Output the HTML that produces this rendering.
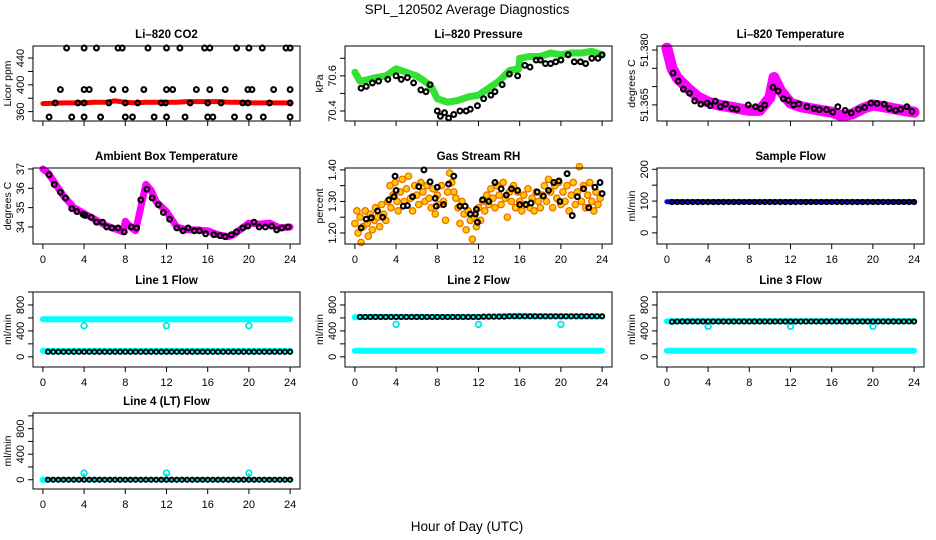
<!DOCTYPE html>
<html><head><meta charset="utf-8">
<style>
body{margin:0;background:#fff;}
svg{display:block;font-family:"Liberation Sans",sans-serif;}
</style></head>
<body>
<svg id="chart" width="936" height="540" viewBox="0 0 936 540" xmlns="http://www.w3.org/2000/svg">
<rect x="0" y="0" width="936" height="540" fill="#fff"/>
<text x="467" y="14" text-anchor="middle" font-size="13.5">SPL_120502  Average Diagnostics</text>
<text x="467" y="531" text-anchor="middle" font-size="13.5">Hour of Day (UTC)</text>
</svg>
<script>
// ---------- data ----------
const xTicks = [0,4,8,12,16,20,24];
// CO2
const co2BandHours = [0,1,2,3,4,5,6,7,8,9,10,11,12,13,14,15,16,17,18,19,20,21,22,23,24];
const co2BandVals = [372,372.5,373,373,373,374,374,376,374,373,374,374,374,374,375,375,375,375,374,374,373,373,373,373,373];
const co2PtHours = [2.3,4,5.2,7.3,7.7,10.2,12,13.3,15.7,16.2,18.8,20,21.3,23.6,24, 1.7,4,4.5,6.8,8,9.8,12,12.6,14.9,16.2,17.7,19.9,20.3,22.4,24, 1.2,3.4,4,6.4,8,9.2,11.5,11.9,14.3,16,17.3,19.4,19.9,22,24, 0.6,2.8,4,5.6,8,8.7,10.8,12,13.8,16,16.5,18.6,20,21.4,24];
const co2PtVals = [455,455,455,455,455,455,455,455,455,455,455,455,455,455,455, 393,393,393,393,393,393,393,393,393,393,393,393,393,393,393, 373,373,373,373,373,373,373,373,373,373,373,373,373,373,373, 352,352,352,352,352,352,352,352,352,352,352,352,352,352,352];
// Pressure
const presBandHours = [0,0.5,1,2,3,4,5,6,7,7.5,8,9,10,11,12,13,14,15,15.9,16,17,18,19,20,21,22,23,24];
const presBandVals = [70.62,70.57,70.575,70.59,70.60,70.64,70.62,70.60,70.56,70.53,70.47,70.45,70.46,70.48,70.49,70.53,70.57,70.63,70.64,70.70,70.71,70.71,70.73,70.72,70.73,70.73,70.74,70.72];
const presPtHours = [0.6,1.1,1.7,2.3,3.2,4,4.5,5.1,5.7,6.4,6.9,7.3,8,8.3,8.7,9.1,9.6,10.2,10.8,11.2,11.9,12.5,13.2,13.6,14.3,15,15.8,16.5,17,17.6,18,18.5,19,19.5,20,20.7,21.3,21.9,22.4,23,23.6,24];
const presPtVals = [70.53,70.54,70.56,70.57,70.58,70.60,70.58,70.59,70.56,70.52,70.51,70.55,70.40,70.37,70.39,70.36,70.38,70.40,70.40,70.41,70.43,70.47,70.49,70.51,70.55,70.61,70.60,70.66,70.65,70.69,70.69,70.67,70.67,70.68,70.69,70.72,70.68,70.68,70.67,70.70,70.70,70.72];
// Li-820 temperature
const tempBandHours = [0,0.5,1,2,3,4,5,6,7,8,9,10,10.4,11,12,13,14,15,16,17,18,19,20,21,22,23,24];
const tempBandVals = [51.3805,51.375,51.3724,51.3696,51.3672,51.3658,51.365,51.3645,51.364,51.3635,51.3635,51.367,51.3725,51.369,51.3655,51.3645,51.364,51.3635,51.363,51.362,51.3625,51.364,51.365,51.3645,51.364,51.3635,51.363];
const tempPtHours = [0.6,1.1,1.6,2.2,2.7,3.3,3.9,4.2,4.7,5.2,5.7,6.3,6.8,7.9,8.6,9.1,9.5,10.3,10.8,11.3,11.8,12.3,12.8,13.6,14.3,14.8,15.5,16.1,16.6,17.3,17.9,18.6,19.2,19.8,20.4,21.1,21.6,22.2,22.7,23.3,23.8];
const tempPtVals = [51.3737,51.3715,51.3693,51.3682,51.3661,51.3652,51.3655,51.3648,51.3660,51.3645,51.3652,51.3640,51.3638,51.3650,51.3645,51.3640,51.3650,51.3698,51.3688,51.3667,51.3663,51.3650,51.3653,51.3645,51.3640,51.3637,51.3637,51.3630,51.3645,51.3635,51.3628,51.3638,51.3643,51.3655,51.3654,51.3652,51.3640,51.3635,51.3638,51.3645,51.3632];
// Ambient box temperature
const ambBandHours = [0,0.5,1,2,3,4,5,6,7,7.8,8,8.5,9,9.5,10,10.5,11,12,13,14,15,16,17,18,18.5,19,20,21,22,23,24];
const ambBandVals = [37.0,36.8,36.4,35.6,35.0,34.7,34.4,34.1,33.9,33.75,34.3,34.0,33.8,35.0,36.2,35.9,35.3,34.8,34.0,33.85,33.85,33.8,33.6,33.5,33.6,33.8,34.2,34.15,34.2,33.95,34.0];
const ambPtHours = [0.6,1.1,1.7,2.2,2.8,3.3,3.9,4.1,4.7,5.2,5.8,6.2,6.7,7.3,7.9,8.6,9.1,9.5,10.1,10.6,11.2,11.7,12.3,13,13.6,14.1,14.7,15.2,15.8,16.6,17.2,17.7,18.3,18.8,19.4,19.9,20.5,21,21.6,22.2,22.7,23.2,23.8];
const ambPtVals = [36.7,36.2,35.8,35.5,34.95,34.8,34.65,34.6,34.5,34.25,34.25,34.0,33.95,33.95,33.75,34.0,33.95,35.4,35.95,35.5,35.15,34.75,34.4,33.95,33.8,33.95,33.8,33.8,33.65,33.6,33.55,33.5,33.6,33.75,33.95,34.05,34.25,34.0,34.0,34.05,33.85,33.95,34.0];
// Gas stream RH
const rhScatHours = [0.0,0.2,0.3,0.5,0.6,0.8,1.0,1.2,1.3,1.5,1.7,1.9,2.0,2.2,2.4,2.6,2.8,3.0,3.2,3.4,3.5,3.7,3.9,4.1,4.2,4.4,4.6,4.8,5.0,5.2,5.4,5.6,5.8,6.0,6.2,6.4,6.6,6.8,7.0,7.2,7.4,7.6,7.8,8.0,8.2,8.4,8.6,8.8,9.0,9.2,9.4,9.6,9.8,10.0,10.2,10.4,10.6,10.8,11.0,11.2,11.4,11.6,11.8,12.0,12.2,12.4,12.6,12.8,13.0,13.2,13.4,13.6,13.8,14.0,14.2,14.4,14.6,14.8,15.0,15.2,15.4,15.6,15.8,16.0,16.2,16.4,16.6,16.8,17.0,17.2,17.4,17.6,17.8,18.0,18.2,18.4,18.6,18.8,19.0,19.2,19.4,19.6,19.8,20.0,20.2,20.4,20.6,20.8,21.0,21.2,21.4,21.6,21.8,22.0,22.2,22.4,22.6,22.8,23.0,23.2,23.4,23.6,23.8];
const rhScatVals = [1.23,1.27,1.20,1.25,1.17,1.22,1.27,1.23,1.19,1.26,1.21,1.24,1.28,1.25,1.22,1.29,1.26,1.24,1.30,1.35,1.28,1.32,1.36,1.30,1.27,1.33,1.37,1.30,1.34,1.38,1.31,1.27,1.35,1.32,1.29,1.36,1.33,1.30,1.35,1.31,1.28,1.34,1.26,1.32,1.29,1.35,1.30,1.24,1.33,1.39,1.36,1.33,1.31,1.28,1.23,1.30,1.26,1.21,1.27,1.24,1.18,1.25,1.22,1.28,1.24,1.30,1.27,1.32,1.29,1.34,1.31,1.28,1.35,1.32,1.29,1.36,1.31,1.25,1.33,1.30,1.35,1.28,1.33,1.30,1.27,1.32,1.29,1.34,1.28,1.31,1.27,1.33,1.30,1.28,1.32,1.35,1.30,1.37,1.33,1.28,1.35,1.31,1.36,1.29,1.33,1.30,1.35,1.27,1.32,1.36,1.29,1.33,1.41,1.30,1.35,1.28,1.32,1.36,1.30,1.27,1.33,1.29,1.31];
const rhPtHours = [0.6,1.1,1.6,2.2,2.7,3.3,3.8,3.9,4,4.7,5.1,5.6,6.2,6.7,7.3,7.8,7.9,8,8.6,9.1,9.6,10.2,10.7,11.2,11.7,11.8,11.9,12.4,13,13.6,14.2,14.7,15.2,15.8,16,16.6,17.1,17.7,18.3,18.8,19.3,19.8,19.9,20.6,21.1,21.6,22.2,22.7,23.3,23.8,24];
const rhPtVals = [1.216,1.244,1.248,1.27,1.25,1.305,1.315,1.38,1.335,1.285,1.287,1.315,1.347,1.40,1.362,1.31,1.285,1.345,1.29,1.355,1.38,1.285,1.285,1.26,1.26,1.275,1.234,1.305,1.30,1.36,1.34,1.32,1.34,1.335,1.29,1.29,1.295,1.33,1.317,1.335,1.36,1.365,1.30,1.388,1.255,1.315,1.34,1.28,1.345,1.36,1.325];
// Flows
const flowBandHours = [0,1,2,3,4,5,6,7,8,9,10,11,12,13,14,15,16,17,18,19,20,21,22,23,24];
const sampleBandVals = [98,98,98,98,98,98,98,98,98,98,98,98,98,98,98,98,98,98,98,98,98,98,98,98,98];
const flowPtHours = [0.5,1,1.5,2,2.5,3,3.5,4,4.5,5,5.5,6,6.5,7,7.5,8,8.5,9,9.5,10,10.5,11,11.5,12,12.5,13,13.5,14,14.5,15,15.5,16,16.5,17,17.5,18,18.5,19,19.5,20,20.5,21,21.5,22,22.5,23,23.5,24];
const samplePtVals = [97,97,97,97,97,97,97,97,97,97,97,97,97,97,97,97,97,97,97,97,97,97,97,97,97,97,97,97,97,97,97,97,97,97,97,97,97,97,97,97,97,97,97,97,97,97,97,97];
const line1HighBand = [580,580,580,580,580,580,580,580,580,580,580,580,580,580,580,580,580,580,580,580,580,580,580,580,580];
const line1LowBand = [92,92,92,92,92,92,92,92,92,92,92,92,92,92,92,92,92,92,92,92,92,92,92,92,92];
const line1PtVals = [78,78,78,78,78,78,78,78,78,78,78,78,78,78,78,78,78,78,78,78,78,78,78,78,78,78,78,78,78,78,78,78,78,78,78,78,78,78,78,78,78,78,78,78,78,78,78,78];
const line2HighBand = [610,615,615,615,615,615,615,615,615,615,615,615,615,620,625,630,635,630,625,625,625,625,625,625,625];
const line2LowBand = [95,95,95,95,95,95,95,95,95,95,95,95,95,95,95,95,95,95,95,95,95,95,95,95,95];
const line2PtVals = [615,615,615,615,615,615,615,615,615,615,615,615,615,615,615,615,615,615,615,615,615,615,615,615,620,620,620,620,620,625,625,625,625,625,625,625,625,625,625,625,625,625,625,625,625,625,625,625];
const line3HighBand = [550,550,550,550,550,550,550,550,550,550,550,550,550,550,550,550,550,550,550,550,550,550,550,550,550];
const line3LowBand = [95,95,95,95,95,95,95,95,95,95,95,95,95,95,95,95,95,95,95,95,95,95,95,95,95];
const line3PtVals = [540,545,545,545,545,545,545,545,545,545,545,545,545,545,545,545,545,545,545,545,545,545,545,545,545,545,545,545,545,545,545,545,545,545,545,545,545,545,545,545,545,545,545,545,545,545,545,545];
const line4PtVals = [0,0,0,0,0,0,0,0,0,0,0,0,0,0,0,0,0,0,0,0,0,0,0,0,0,0,0,0,0,0,0,0,0,0,0,0,0,0,0,0,0,0,0,0,0,0,0,0];
const outlierHours = [4,12,20];
const line1Outliers = [480,480,480];
const line2Outliers = [500,500,500];
const line3Outliers = [470,470,470];
const line4Outliers = [105,105,105];
const line4StartHours = [0,0.2];
const line4StartVals = [0,0];

// ---------- drawing ----------
const NS = 'http://www.w3.org/2000/svg';
const svg = document.getElementById('chart');
function mk(parent, tag, attrs, name, inter) {
  const el = document.createElementNS(NS, tag);
  for (const k in attrs) el.setAttribute(k, attrs[k]);
  
  
  parent.appendChild(el);
  return el;
}
function makePanel(c) {
  const g = mk(svg, 'g', {}, c.id + '-panel', false);
  const sx = v => c.left + (v + 0.96) / 25.92 * c.w;
  const sy = v => c.top + c.h - (v - c.ymin) / (c.ymax - c.ymin) * c.h;
  const bottom = c.top + c.h;
  const t = mk(g, 'text', {x: c.left + c.w / 2, y: c.top - 8, 'text-anchor': 'middle', 'font-size': 11.5, 'font-weight': 'bold'}, c.id + '-title', false);
  t.textContent = c.title;
  mk(g, 'line', {x1: sx(0), x2: sx(24), y1: bottom, y2: bottom, stroke: '#000'}, c.id + '-x-axis', false);
  xTicks.forEach(v => {
    mk(g, 'line', {x1: sx(v), x2: sx(v), y1: bottom, y2: bottom + 5, stroke: '#000'}, c.id + '-x-tick', false);
    if (c.xlabels) {
      const tl = mk(g, 'text', {x: sx(v), y: bottom + 19, 'text-anchor': 'middle', 'font-size': 11}, c.id + '-x-tick-label', false);
      tl.textContent = v;
    }
  });
  c.ticks.forEach(v => {
    mk(g, 'line', {x1: c.left - 5, x2: c.left, y1: sy(v), y2: sy(v), stroke: '#000'}, c.id + '-y-tick', false);
  });
  c.labels.forEach((v, i) => {
    const yy = sy(v);
    const tl = mk(g, 'text', {x: c.left - 9, y: yy, 'text-anchor': 'middle', 'font-size': 11, transform: 'rotate(-90 ' + (c.left - 9) + ' ' + yy + ')'}, c.id + '-y-tick-label', false);
    tl.textContent = c.labelText[i];
  });
  const ay = c.top + c.h / 2;
  const yl = mk(g, 'text', {x: c.left - 22, y: ay, 'text-anchor': 'middle', 'font-size': 10.5, transform: 'rotate(-90 ' + (c.left - 22) + ' ' + ay + ')'}, c.id + '-y-axis-title', false);
  yl.textContent = c.ylab;
  const pg = mk(g, 'g', {}, c.id + '-plot-area', false);
  mk(g, 'rect', {x: c.left, y: c.top, width: c.w, height: c.h, fill: 'none', stroke: '#000'}, c.id + '-frame', false);
  return {sx, sy, g: pg};
}
function band(p, xs, ys, color, width, name) {
  const pts = xs.map((x, i) => p.sx(x).toFixed(1) + ',' + p.sy(ys[i]).toFixed(1)).join(' ');
  mk(p.g, 'polyline', {points: pts, fill: 'none', stroke: color, 'stroke-width': width, 'stroke-linejoin': 'round', 'stroke-linecap': 'round'}, name, false);
}
function points(p, xs, ys, stroke, fill, r, sw, name) {
  xs.forEach((x, i) => {
    mk(p.g, 'circle', {cx: p.sx(x), cy: p.sy(ys[i]), r: r, fill: fill, stroke: stroke, 'stroke-width': sw}, name, false);
  });
}
const C1 = 33, C2 = 345, C3 = 657, W = 267;
const R1 = 46, R2 = 168, R3 = 292, R4 = 413, H = 75;
const BR = 2.4, BW = 2.1;

// CO2
let p = makePanel({id: 'co2', left: C1, top: R1, w: W, h: H, ymin: 346, ymax: 458, ticks: [360,380,400,420,440], labels: [360,400,440], labelText: ['360','400','440'], title: 'Li–820 CO2', ylab: 'Licor ppm'});
band(p, co2BandHours, co2BandVals, '#ff0000', 5, 'co2-band');
points(p, co2PtHours, co2PtVals, '#000', 'none', BR, BW, 'co2-point');

// Pressure
p = makePanel({id: 'pressure', left: C2, top: R1, w: W, h: H, ymin: 70.343, ymax: 70.77, ticks: [70.4,70.5,70.6,70.7], labels: [70.4,70.6], labelText: ['70.4','70.6'], title: 'Li–820 Pressure', ylab: 'kPa'});
band(p, presBandHours, presBandVals, '#33e033', 7, 'pressure-band');
points(p, presPtHours, presPtVals, '#000', 'none', BR, BW, 'pressure-point');

// Li-820 Temperature
p = makePanel({id: 'li820-temp', left: C3, top: R1, w: W, h: H, ymin: 51.3606, ymax: 51.3811, ticks: [51.365,51.37,51.375,51.38], labels: [51.365,51.38], labelText: ['51.365','51.380'], title: 'Li–820 Temperature', ylab: 'degrees C'});
band(p, tempBandHours, tempBandVals, '#ff00ff', 11, 'li820-temp-band');
points(p, tempPtHours, tempPtVals, '#000', 'none', BR, BW, 'li820-temp-point');

// Ambient
p = makePanel({id: 'ambient', left: C1, top: R2, w: W, h: H + 1, xlabels: true, ymin: 33.12, ymax: 37.05, ticks: [34,35,36,37], labels: [34,35,36,37], labelText: ['34','35','36','37'], title: 'Ambient Box Temperature', ylab: 'degrees C'});
band(p, ambBandHours, ambBandVals, '#ff00ff', 7, 'ambient-band');
points(p, ambPtHours, ambPtVals, '#000', 'none', BR, BW, 'ambient-point');

// RH
p = makePanel({id: 'rh', left: C2, top: R2, w: W, h: H + 1, xlabels: true, ymin: 1.165, ymax: 1.406, ticks: [1.2,1.25,1.3,1.35,1.4], labels: [1.2,1.3,1.4], labelText: ['1.20','1.30','1.40'], title: 'Gas Stream RH', ylab: 'percent'});
points(p, rhScatHours, rhScatVals, '#f07000', '#ffcc00', 3.2, 1.3, 'rh-scatter-point');
points(p, rhPtHours, rhPtVals, '#000', 'none', BR, BW, 'rh-point');

// Sample flow
p = makePanel({id: 'sample-flow', left: C3, top: R2, w: W, h: H + 1, xlabels: true, ymin: -35, ymax: 204, ticks: [0,50,100,150,200], labels: [0,100,200], labelText: ['0','100','200'], title: 'Sample Flow', ylab: 'ml/min'});
band(p, flowBandHours, sampleBandVals, '#0000ff', 5, 'sample-flow-band');
points(p, flowPtHours, samplePtVals, '#000', 'none', 2.2, 1.8, 'sample-flow-point');

const flowTicks = [0,200,400,600,800,1000];
// Line 1
p = makePanel({id: 'line1', left: C1, top: R3, w: W, h: H, xlabels: true, ymin: -157, ymax: 1000, ticks: flowTicks, labels: [0,400,800], labelText: ['0','400','800'], title: 'Line 1 Flow', ylab: 'ml/min'});
band(p, flowBandHours, line1HighBand, '#00ffff', 6, 'line1-high-band');
band(p, flowBandHours, line1LowBand, '#00ffff', 6, 'line1-low-band');
points(p, outlierHours, line1Outliers, '#00e5e5', 'none', 2.8, 1.8, 'line1-outlier');
points(p, flowPtHours, line1PtVals, '#000', 'none', 2.2, 1.8, 'line1-point');

// Line 2
p = makePanel({id: 'line2', left: C2, top: R3, w: W, h: H, xlabels: true, ymin: -157, ymax: 1000, ticks: flowTicks, labels: [0,400,800], labelText: ['0','400','800'], title: 'Line 2 Flow', ylab: 'ml/min'});
band(p, flowBandHours, line2HighBand, '#00ffff', 6, 'line2-high-band');
band(p, flowBandHours, line2LowBand, '#00ffff', 6, 'line2-low-band');
points(p, outlierHours, line2Outliers, '#00e5e5', 'none', 2.8, 1.8, 'line2-outlier');
points(p, flowPtHours, line2PtVals, '#000', 'none', 2.2, 1.8, 'line2-point');

// Line 3
p = makePanel({id: 'line3', left: C3, top: R3, w: W, h: H, xlabels: true, ymin: -157, ymax: 1000, ticks: flowTicks, labels: [0,400,800], labelText: ['0','400','800'], title: 'Line 3 Flow', ylab: 'ml/min'});
band(p, flowBandHours, line3HighBand, '#00ffff', 6, 'line3-high-band');
band(p, flowBandHours, line3LowBand, '#00ffff', 6, 'line3-low-band');
points(p, outlierHours, line3Outliers, '#00e5e5', 'none', 2.8, 1.8, 'line3-outlier');
points(p, flowPtHours, line3PtVals, '#000', 'none', 2.2, 1.8, 'line3-point');

// Line 4
p = makePanel({id: 'line4', left: C1, top: R4, w: W, h: H + 1, xlabels: true, ymin: -145, ymax: 1045, ticks: flowTicks, labels: [0,400,800], labelText: ['0','400','800'], title: 'Line 4 (LT) Flow', ylab: 'ml/min'});
points(p, line4StartHours, line4StartVals, '#00ffff', '#00ffff', 2.5, 1.5, 'line4-start-point');
points(p, outlierHours, line4Outliers, '#00e5e5', 'none', 2.8, 1.8, 'line4-outlier');
outlierHours.forEach((h, i) => {
  mk(p.g, 'line', {x1: p.sx(h), x2: p.sx(h), y1: p.sy(line4Outliers[i]), y2: p.sy(0), stroke: '#00e5e5', 'stroke-width': 1.5}, 'line4-outlier-stem', false);
});
points(p, flowPtHours, line4PtVals, '#000', '#00cccc', 2.2, 1.8, 'line4-point');
</script>
</body></html>
